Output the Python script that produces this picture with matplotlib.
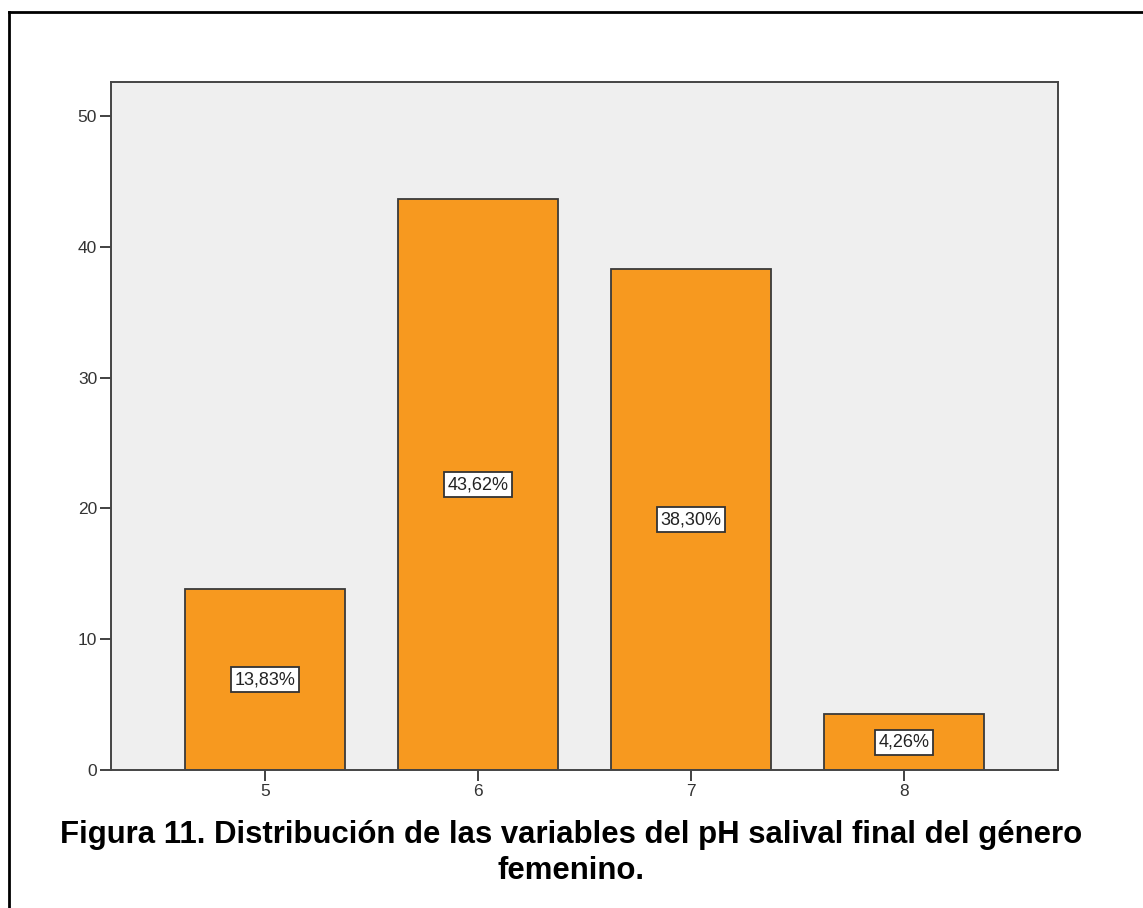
import matplotlib.pyplot as plt
from matplotlib.lines import Line2D

categorias = [5, 6, 7, 8]
porcentajes = [13.83, 43.62, 38.30, 4.26]
etiquetas = ['13,83%', '43,62%', '38,30%', '4,26%']
yticks = [0, 10, 20, 30, 40, 50]

W, H = 1143, 908
fig = plt.figure(figsize=(W / 100, H / 100), dpi=100)
fig.patch.set_facecolor('white')

# axes placed in pixel terms: left 111, right 1058, top 82, bottom 770
ax = fig.add_axes([111 / W, 1 - 770 / H, (1058 - 111) / W, (770 - 82) / H])
ax.set_facecolor('#efefef')

ax.bar(categorias, porcentajes, width=0.75, color='#f7991f',
       edgecolor='#3a3a3a', linewidth=1.3, zorder=2)

for x, v, t in zip(categorias, porcentajes, etiquetas):
    ax.text(x, v / 2, t, ha='center', va='center', fontsize=13,
            family='Liberation Sans', color='#222222', zorder=3,
            bbox=dict(boxstyle='square,pad=0.22', fc='white',
                      ec='#333333', lw=1.3))

ax.set_xlim(4.277, 8.723)
ax.set_ylim(0, 52.6)
ax.set_xticks(categorias)
ax.set_yticks(yticks)
ax.tick_params(direction='out', length=8, width=1.3, color='#333333',
               labelsize=12.5, labelcolor='#333333', pad=2)
for lab in ax.get_xticklabels() + ax.get_yticklabels():
    lab.set_family('Liberation Sans')
for s in ax.spines.values():
    s.set_color('#444444')
    s.set_linewidth(1.4)

fig.text(0.5, 1 - 843 / H,
         'Figura 11. Distribución de las variables del pH salival final del género',
         ha='center', va='baseline', fontsize=22.4, fontweight='bold',
         family='Liberation Sans')
fig.text(0.5, 1 - 879 / H, 'femenino.', ha='center', va='baseline',
         fontsize=22.4, fontweight='bold', family='Liberation Sans')

# frame lines around the figure (left and top)
fig.add_artist(Line2D([9 / W, 9 / W], [0, 1 - 12 / H], color='black',
                      lw=2, transform=fig.transFigure))
fig.add_artist(Line2D([9 / W, 1], [1 - 12 / H, 1 - 12 / H], color='black',
                      lw=2, transform=fig.transFigure))

fig.savefig('out.png', dpi=100)
